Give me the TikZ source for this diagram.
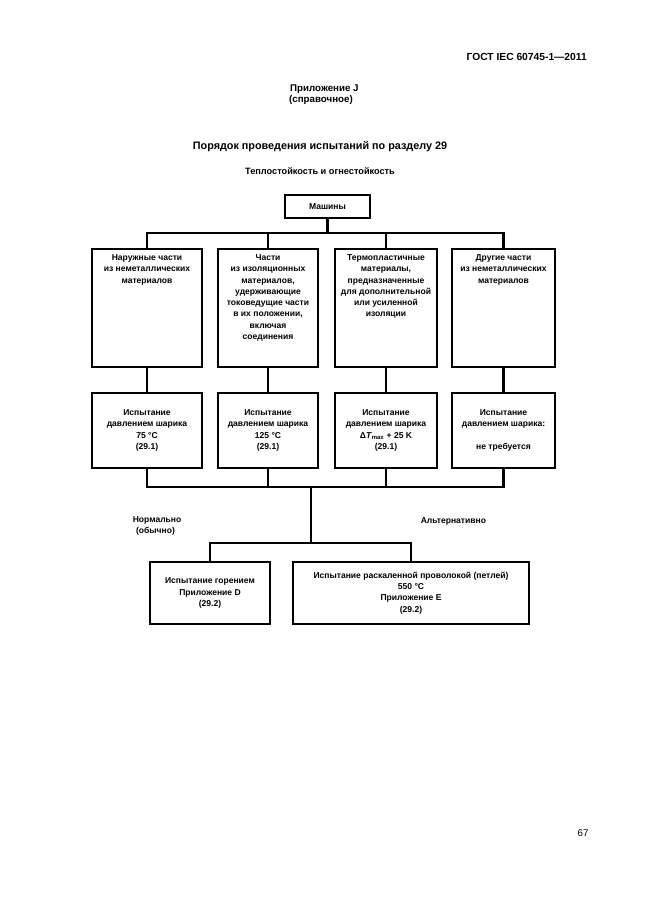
\documentclass[tikz,border=0pt]{standalone}
\usepackage{fontspec}
\setmainfont{Liberation Sans}
\begin{document}
\begin{tikzpicture}[x=0.32508mm,y=-0.32508mm,
  box/.style={draw,line width=2.6pt,inner sep=0pt},
  conn/.style={line width=1.9pt},
  boxtext/.style={font=\bfseries\fontsize{7.9}{10.4}\selectfont,align=center},
  head/.style={font=\bfseries\fontsize{9}{11}\selectfont,inner sep=0pt}]
\useasboundingbox (0,0) rectangle (646,913);
% header texts
\node[head,anchor=east,font=\bfseries\fontsize{9.5}{11}\selectfont] (gost) at (587,57) {ГОСТ IEC 60745-1—2011};
\node[head,anchor=west] (pril) at (290,89) {Приложение J};
\node[head,anchor=west] (sprav) at (289,100) {(справочное)};
\node[head,font=\bfseries\fontsize{10}{12}\selectfont] (title) at (320,147) {Порядок проведения испытаний по разделу 29};
\node[head,font=\bfseries\fontsize{8.5}{10}\selectfont] (sub) at (320,171) {Теплостойкость и огнестойкость};
% top box
\node[box,boxtext,minimum width=85*0.32508mm,minimum height=23*0.32508mm] (m) at (327.5,206.5) {Машины};
% upper boxes
\foreach \n/\cx/\w/\t in {a1/147/110/{Наружные части\\из неметаллических\\материалов},
  a2/268/100/{Части\\из изоляционных\\материалов,\\удерживающие\\токоведущие части\\в их положении,\\включая\\соединения},
  a3/386/102/{Термопластичные\\материалы,\\предназначенные\\для дополнительной\\или усиленной\\изоляции},
  a4/503.5/103/{Другие части\\из неметаллических\\материалов}}{
  \node[box,minimum width=\w*0.32508mm,minimum height=118*0.32508mm,
    label={[boxtext,anchor=north,yshift=-3.2pt]north:\t}] (\n) at (\cx,308) {};
}
% test boxes
\node[box,boxtext,minimum width=110*0.32508mm,minimum height=75*0.32508mm] (t1) at (147,430.5) {Испытание\\давлением шарика\\75 °C\\(29.1)};
\node[box,boxtext,minimum width=100*0.32508mm,minimum height=75*0.32508mm] (t2) at (268,430.5) {Испытание\\давлением шарика\\125 °C\\(29.1)};
\node[box,boxtext,minimum width=102*0.32508mm,minimum height=75*0.32508mm] (t3) at (386,430.5) {Испытание\\давлением шарика\\Δ\textit{T}\textsubscript{max} + 25 K\\(29.1)};
\node[box,boxtext,minimum width=103*0.32508mm,minimum height=75*0.32508mm] (t4) at (503.5,430.5) {Испытание\\давлением шарика:\\[10.4pt]не требуется};
% bottom boxes
\node[box,boxtext,minimum width=120*0.32508mm,minimum height=62*0.32508mm] (d) at (210,593) {Испытание горением\\Приложение D\\(29.2)};
\node[box,boxtext,minimum width=236*0.32508mm,minimum height=62*0.32508mm] (e) at (411,593) {Испытание раскаленной проволокой (петлей)\\550 °C\\Приложение E\\(29.2)};
% labels
\node[boxtext,anchor=west,align=left] (norm) at (129,526) {Нормально\\\hspace*{3pt}(обычно)};
\node[boxtext,anchor=west] (alt) at (417,521) {Альтернативно};
\node[font=\fontsize{9}{11}\selectfont] (page) at (583,833) {67};
% connectors
\coordinate (busT) at (327.5,233);
\coordinate (busB) at (311,487);
\coordinate (busC) at (311,543);
\draw[conn] (m.south) -- (busT);
\draw[conn] (a1.north) |- (busT) -| (a4.north);
\draw[conn] (a2.north) -- (a2.north|-busT);
\draw[conn] (a3.north) -- (a3.north|-busT);
\foreach \i in {1,2,3,4}{\draw[conn] (a\i.south) -- (t\i.north);}
\draw[conn] (t1.south) |- (busB) -| (t4.south);
\draw[conn] (t2.south) -- (t2.south|-busB);
\draw[conn] (t3.south) -- (t3.south|-busB);
\draw[conn] (busB) -- (busC);
\draw[conn] (d.north) |- (busC) -| (e.north);
\end{tikzpicture}
\end{document}
